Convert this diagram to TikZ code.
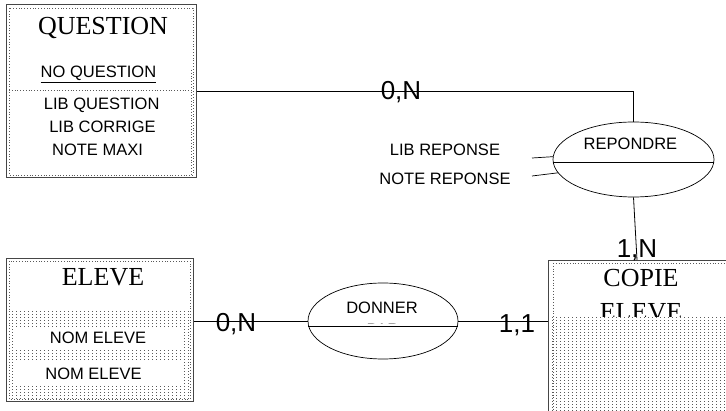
\documentclass[tikz,border=0pt]{standalone}
\usepackage{fontspec}
\setmainfont{Liberation Serif}
\setsansfont{Liberation Sans}
\usetikzlibrary{patterns,shapes.geometric}
\pgfdeclarepatternformonly{sdots}{\pgfqpoint{-1pt}{-1pt}}{\pgfqpoint{5pt}{4pt}}{\pgfqpoint{4pt}{3pt}}%
  {\pgfpathrectangle{\pgfqpoint{0pt}{0pt}}{\pgfqpoint{1.1pt}{1.1pt}}\pgfusepath{fill}}
\tikzset{
  entbox/.style={draw=gray!55!black, line width=0.9pt, rectangle, inner sep=0pt},
  innerdot/.style={draw=gray!70!black, dotted, line width=0.8pt},
  dotfill/.style={pattern=sdots, pattern color=gray!70!black},
  ttl/.style={font=\fontsize{26}{26}\selectfont, inner sep=0pt, anchor=base},
  attr/.style={font=\sffamily\fontsize{16.5}{16.5}\selectfont, inner sep=0pt, anchor=base},
  card/.style={font=\sffamily\fontsize{26}{26}\selectfont, inner sep=0pt, anchor=base},
  rel/.style={draw, ellipse, line width=0.7pt, inner sep=0pt},
  conn/.style={draw, line width=0.8pt}
}
\begin{document}
\begin{tikzpicture}[x=1pt,y=-1pt]
\useasboundingbox[fill=white] (0,0) rectangle (726,411);

% ---------------- QUESTION entity
\node[entbox, minimum width=190pt, minimum height=173pt, anchor=north west] (q) at (6,4) {};
\draw[innerdot] (9,8) rectangle (193,175);
\draw[innerdot] (9,90) -- (191,90);
\draw[innerdot] (191,70) -- (191,175);
\node[ttl] (qt) at (103,34.5) {QUESTION};
\node[attr] (qa0) at (98.5,77.5) {\underline{NO QUESTION}};
\node[attr] (qa1) at (101.7,110) {LIB QUESTION};
\node[attr] (qa2) at (102.5,132.5) {LIB CORRIGE};
\node[attr] (qa3) at (97.5,155.5) {NOTE MAXI};

% ---------------- REPONDRE relation
\node[rel, minimum width=161pt, minimum height=75pt] (rep) at (633.5,159.5) {};
\draw[line width=0.7pt] (rep.182) -- (rep.358);
\node[attr] (rept) at (630.5,150) {REPONDRE};
\node[attr] (ra1) at (445,156) {LIB REPONSE};
\node[attr] (ra2) at (445,185) {NOTE REPONSE};
\coordinate (ra1e) at (532,158);
\coordinate (ra2e) at (532,176);
\draw[line width=0.7pt] (ra1e) -- (rep.178);
\draw[line width=0.7pt] (ra2e) -- (rep.190);

% ---------------- ELEVE entity
\node[entbox, minimum width=187pt, minimum height=143pt, anchor=north west] (elv) at (6,258) {};
\draw[innerdot] (9,261) rectangle (190,399);
\fill[dotfill] (9,312) rectangle (190,399);
\fill[white] (16,327) rectangle (183,349);
\fill[white] (16,362) rectangle (183,385);
\node[ttl] (et) at (103,286) {ELEVE};
\node[attr] (ea1) at (98,344) {NOM ELEVE};
\node[attr] (ea2) at (93.5,380) {NOM ELEVE};

% ---------------- DONNER PAR relation
\node[rel, minimum width=150pt, minimum height=76pt] (don) at (383,321) {};
\node[attr] (dt) at (382,314) {DONNER};
\begin{scope}
  \clip (don.north west) rectangle (don.east |- don.358);
  \node[attr] (dt2) at (383,336) {PAR};
\end{scope}
\draw[line width=0.7pt] (don.184) -- (don.356);

% ---------------- COPIE ELEVE entity
\node[entbox, minimum width=190pt, minimum height=170pt, anchor=north west] (cop) at (548,260) {};
\node[ttl] (ct1) at (641,287) {COPIE};
\node[ttl] (ct2) at (641,320.5) {ELEVE};
\fill[white] (552,317) rectangle (730,415);
\fill[dotfill] (552,317) rectangle (730,415);
\draw[innerdot] (553,263) -- (553,411);
\draw[innerdot] (553,263) -- (726,263);

% ---------------- connectors
\draw[conn] (q.east) -| (rep.north);
\node[card] (c1) at (401,99.3) {0,N};
\coordinate (cn) at (637,260);
\draw[conn] (rep.south) -- (cn);
\node[card] (c2) at (637,258) {1,N};
\draw[conn] (don.west) -- (don.west -| elv.east);
\node[card] (c3) at (236,331.7) {0,N};
\draw[conn] (don.east) -- (don.east -| cop.west);
\node[card] (c4) at (517,333) {1,1};
\end{tikzpicture}
\end{document}
